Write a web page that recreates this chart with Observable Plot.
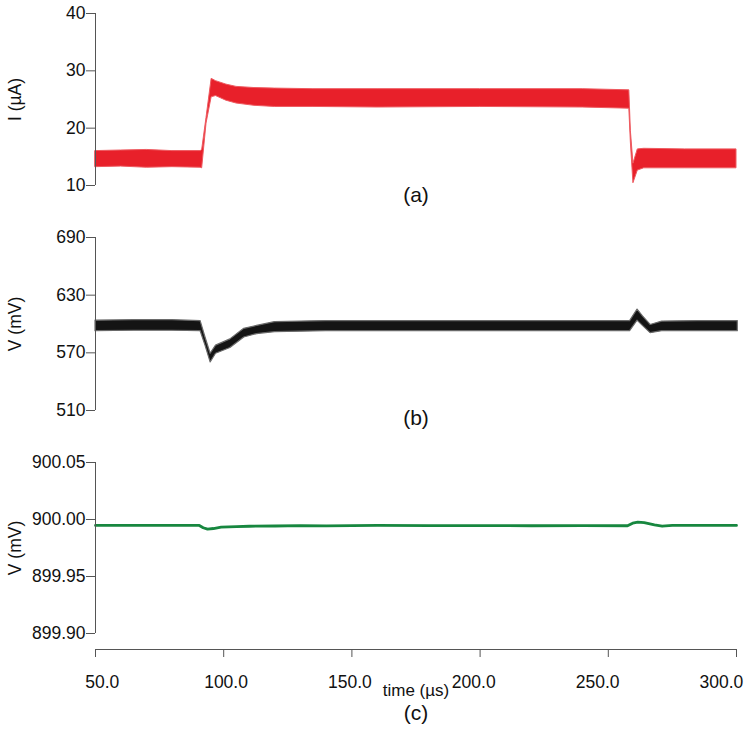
<!DOCTYPE html>
<html><head><meta charset="utf-8">
<script src="https://cdn.jsdelivr.net/npm/d3@7"></script>
<script src="https://cdn.jsdelivr.net/npm/@observablehq/plot@0.6"></script>
<style>
body{margin:0;background:#fff;}
#wrap{position:relative;width:751px;height:740px;font-family:"Liberation Sans",Arial,sans-serif;}
.panel{position:absolute;left:0;}
</style></head><body><div id="wrap"></div>
<script>
// ---- data ----
const xTicks = [50, 100, 150, 200, 250, 300];

// (a) current envelope (µA)
const tA  = [50, 60, 70, 80, 91, 91.6, 93.3, 95.3, 97, 101, 105, 112, 120, 135, 160, 200, 240, 258.2, 258.8, 259.8, 261.5, 264, 280, 300];
const loA = [13.2,13.3,13.1,13.2,13.1,13.0,20.8,25.4,25.6,24.8,24.3,23.9,23.7,23.7,23.6,23.7,23.6,23.4,17.5,10.4,12.6,13.0,13.0,13.0];
const hiA = [16.0,16.1,16.2,16.0,16.0,16.2,21.8,28.6,28.2,27.6,27.2,27.0,26.9,26.8,26.8,26.8,26.8,26.6,19.5,13.8,16.3,16.4,16.3,16.3];
const yDomA = [10, 40];
const yTicksA = [10, 20, 30, 40];

// (b) voltage envelope (mV)
const tB  = [50, 65, 80, 91, 92.9, 94.9, 97, 102.6, 108, 113, 120, 140, 170, 200, 230, 258.5, 261.4, 263.5, 266.5, 271, 285, 300.5];
const loB = [592.5,593,593,592.5,577.5,560,569,575,586,589.5,591.5,592.5,592.5,592.5,592.5,592.5,603.5,598,590.5,592.5,592.5,592.5];
const hiB = [603.5,604,604,603,586,569,577.5,584,595,598,602,603,603,603,603,603,615,608,599,602.5,603,603];
const yDomB = [510, 690];
const yTicksB = [510, 570, 630, 690];

// (c) voltage (mV)
const tC = [50, 90.5, 92, 93.7, 96, 99, 105, 110, 120, 130, 140, 160, 180, 200, 220, 240, 257.5, 259.5, 261.5, 264, 268, 271, 275, 300];
const vC = [899.9948, 899.9948, 899.9928, 899.9915, 899.9921, 899.9933, 899.9938, 899.9941, 899.9943, 899.9946, 899.9944, 899.9948, 899.9946, 899.9947, 899.9945, 899.9946, 899.9945, 899.9968, 899.9977, 899.9973, 899.9953, 899.9941, 899.9948, 899.9948];
const yDomC = [899.90, 900.05];
const yTicksC = [899.90, 899.95, 900.00, 900.05];

// ---- build ----
const dataA = tA.map((t, i) => ({t, lo: loA[i], hi: hiA[i]}));
const dataB = tB.map((t, i) => ({t, lo: loB[i], hi: hiB[i]}));
const dataC = tC.map((t, i) => ({t, v: vC[i]}));

const FONT = '"Liberation Sans", Arial, sans-serif';
const AX = "#555";
const FS = 17.5;
const common = {
  width: 751, marginLeft: 95, marginRight: 15,
  style: {fontFamily: FONT, fontSize: FS + "px", color: "#111", background: "white", overflow: "visible"}
};
const yAxis = (ticks, fmt) => [
  Plot.axisY(ticks, {tickSize: 9, stroke: AX, text: null, label: null}),
  Plot.text(ticks, {y: d => d, text: d => fmt(d), frameAnchor: "left", dx: -10, textAnchor: "end", fontSize: FS})
];
const yLine = (dom) => Plot.ruleX([50], {y1: () => dom[0], y2: () => dom[1], stroke: AX, strokeWidth: 1});
const yLabel = (txt, dy) => Plot.text([txt], {text: d => d, frameAnchor: "left", dx: -80, dy: dy || 0, rotate: -90, textAnchor: "middle", fontSize: 17.5});
const tag = (txt, dy) => Plot.text([txt], {text: d => d, frameAnchor: "bottom", dy, fontSize: 21});

const RED = "#e8202a";
const pA = Plot.plot({
  ...common, height: 220, marginTop: 13, marginBottom: 35,
  x: {domain: [50, 300], axis: null},
  y: {domain: yDomA, axis: null},
  marks: [
    Plot.areaY(dataA, {x: "t", y1: "lo", y2: "hi", fill: RED, stroke: "#ee5a60", strokeWidth: 1}),
    yLine(yDomA), ...yAxis(yTicksA, d3.format("d")),
    yLabel("I (µA)"), tag("(a)", 16)
  ]
});

const pB = Plot.plot({
  ...common, height: 220, marginTop: 17, marginBottom: 30,
  x: {domain: [50, 300], axis: null},
  y: {domain: yDomB, axis: null},
  marks: [
    Plot.areaY(dataB, {x: "t", y1: "lo", y2: "hi", fill: "#141414", stroke: "#6a6a6a", strokeWidth: 1.2}),
    yLine(yDomB), ...yAxis(yTicksB, d3.format("d")),
    yLabel("V (mV)"), tag("(b)", 14)
  ]
});

// x tick labels sit on a slightly compressed spacing in the reference
const xLabels = xTicks.map(t => Plot.text([t], {x: d => d, text: d => d3.format(".1f")(d), frameAnchor: "bottom", dy: 38, dx: 6.7 - (t - 50) * 0.087, fontSize: FS}));

const pC = Plot.plot({
  ...common, height: 300, marginTop: 22, marginBottom: 91,
  x: {domain: [50, 300]},
  y: {domain: yDomC, insetBottom: 16},
  marks: [
    Plot.lineY(dataC, {x: "t", y: "v", stroke: "#17873f", strokeWidth: 2.8}),
    yLine(yDomC), ...yAxis(yTicksC, d3.format(".2f")),
    Plot.ruleY([yDomC[0]], {dy: 16, stroke: AX, strokeWidth: 1}),
    Plot.axisX(xTicks, {tickSize: 8, stroke: AX, text: null, label: null}),
    ...xLabels,
    yLabel("V (mV)", -8),
    Plot.text(["time (µs)"], {text: d => d, frameAnchor: "bottom", dy: 46, fontSize: 17}),
    tag("(c)", 70)
  ]
});

const wrap = document.getElementById("wrap");
[[pA, 0], [pB, 220], [pC, 440]].forEach(([p, top]) => {
  const d = document.createElement("div");
  d.className = "panel";
  d.style.top = top + "px";
  d.appendChild(p);
  wrap.appendChild(d);
});
</script></body></html>
